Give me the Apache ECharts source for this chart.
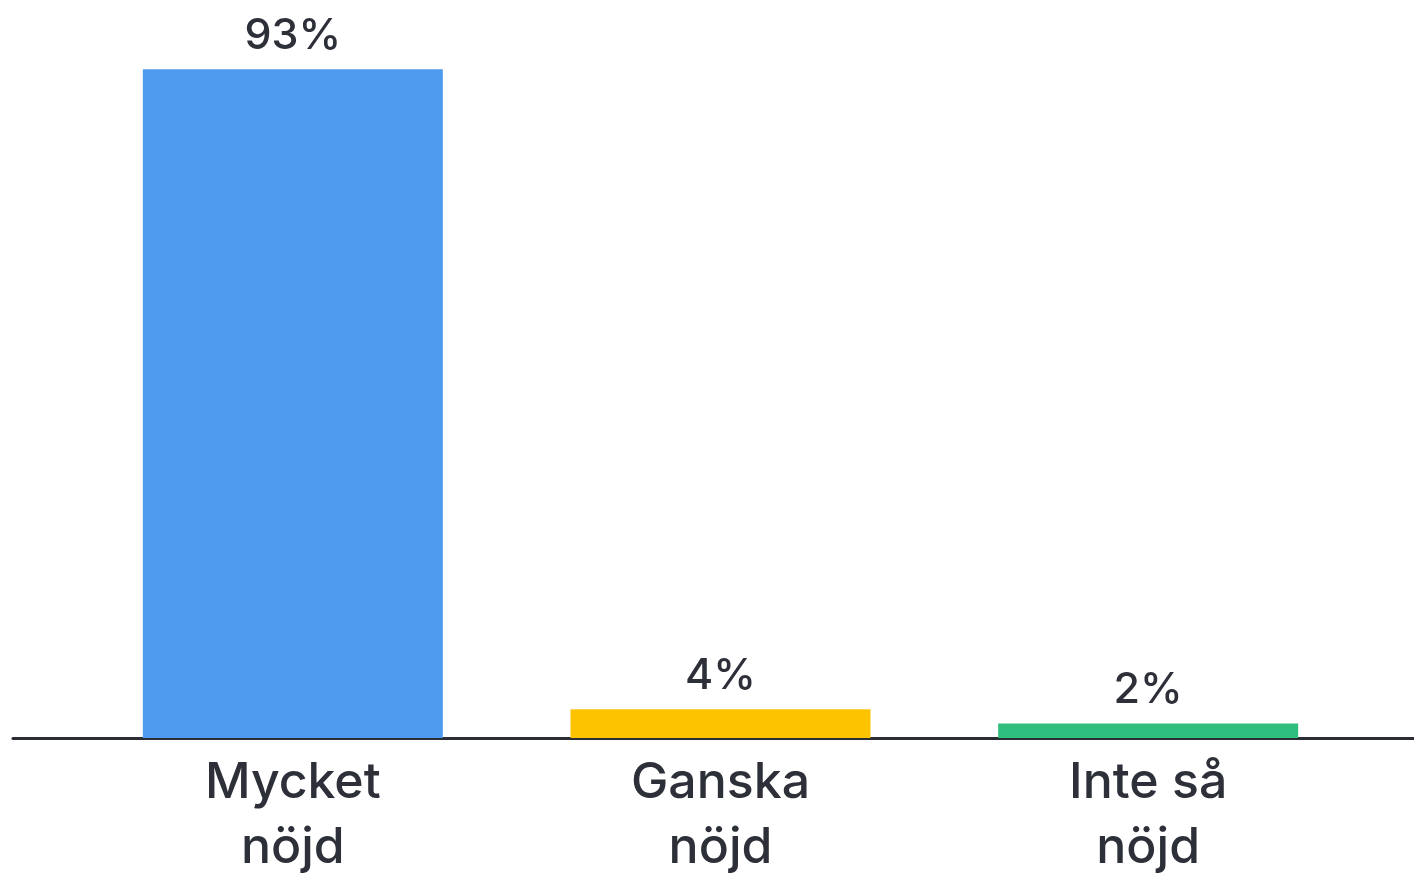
<!DOCTYPE html>
<html>
<head>
<meta charset="utf-8">
<script src="https://cdn.jsdelivr.net/npm/echarts@6/dist/echarts.min.js"></script>
<style>
html,body{margin:0;padding:0;background:#fff;}
#chart{width:1414px;height:876px;}
</style>
</head>
<body>
<div id="chart"></div>
<script>
const categories = ['Mycket\nnöjd', 'Ganska\nnöjd', 'Inte så\nnöjd'];
const values = [93, 4, 2];
const barColors = ['#4e9aee', '#fdc300', '#2ebf7f'];

const chart = echarts.init(document.getElementById('chart'));
const textColor = '#2d3038';
const font = 'Inter, Lato, sans-serif';

chart.setOption({
  animation: false,
  backgroundColor: '#ffffff',
  grid: [
    { left: 79, right: 52, top: 19, bottom: 138, outerBoundsMode: 'none', containLabel: false },
    { left: 13, right: 0, top: 19, bottom: 138, outerBoundsMode: 'none', containLabel: false }
  ],
  xAxis: [
    {
      type: 'category',
      gridIndex: 0,
      data: categories,
      axisLine: { show: false },
      axisTick: { show: false },
      axisLabel: {
        color: textColor,
        fontSize: 50,
        fontWeight: 500,
        fontFamily: font,
        lineHeight: 65,
        margin: 12,
        interval: 0
      }
    },
    {
      type: 'value',
      gridIndex: 1,
      min: 0, max: 1,
      axisLine: { show: true, lineStyle: { color: '#2a2d34', width: 3 } },
      axisTick: { show: false },
      axisLabel: { show: false },
      splitLine: { show: false }
    }
  ],
  yAxis: [
    { type: 'value', gridIndex: 0, min: 0, max: 100, show: false },
    { type: 'value', gridIndex: 1, min: 0, max: 1, show: false }
  ],
  series: [{
    type: 'bar',
    xAxisIndex: 0,
    yAxisIndex: 0,
    barWidth: 300,
    z: 1,
    data: values.map((v, i) => ({ value: v, itemStyle: { color: barColors[i], borderWidth: 0 } })),
    label: {
      show: true,
      position: 'top',
      distance: 12,
      formatter: '{c}%',
      color: textColor,
      fontSize: 43,
      fontWeight: 500,
      fontFamily: font
    }
  }]
});
</script>
</body>
</html>
